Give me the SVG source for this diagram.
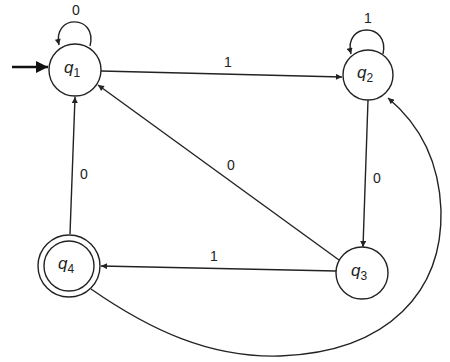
<svg xmlns="http://www.w3.org/2000/svg" width="450" height="362" viewBox="0 0 450 362">
<style>
.n{fill:#fff;stroke:#222;stroke-width:1.4}
.e{fill:none;stroke:#222;stroke-width:1.4}
.q{font-family:"Liberation Sans",Arial,sans-serif;font-style:italic;font-size:17px;fill:#222}
.s{font-size:12px;font-style:normal}
.l{font-family:"Liberation Sans",Arial,sans-serif;font-size:14px;fill:#222;text-anchor:middle}
</style>
<defs>
<marker id="a" viewBox="0 0 10 10" refX="10" refY="5" markerWidth="7" markerHeight="6" markerUnits="userSpaceOnUse" orient="auto">
<path d="M0,0 L10,5 L0,10 z" fill="#222"/>
</marker>
<marker id="b" viewBox="0 0 10 10" refX="10" refY="5" markerWidth="13" markerHeight="12" markerUnits="userSpaceOnUse" orient="auto">
<path d="M0,0 L10,5 L0,10 z" fill="#111"/>
</marker>
</defs>
<rect width="450" height="362" fill="#fff"/>
<g id="connectors">
<line x1="12" y1="67" x2="48" y2="67" stroke="#111" stroke-width="2.6" marker-end="url(#b)"/>
<path class="e" d="M90 46 C98 14,52 14,59 45" marker-end="url(#a)"/>
<path class="e" d="M383 54 C390 22,343 22,351 54" marker-end="url(#a)"/>
<line class="e" x1="101" y1="71" x2="342" y2="77" marker-end="url(#a)"/>
<line class="e" x1="368" y1="100" x2="363" y2="247" marker-end="url(#a)"/>
<line class="e" x1="339" y1="260" x2="98" y2="85" marker-end="url(#a)"/>
<line class="e" x1="336" y1="271" x2="101" y2="266" marker-end="url(#a)"/>
<line class="e" x1="70" y1="234" x2="75" y2="97" marker-end="url(#a)"/>
<path class="e" d="M91 289 C150 330,210 358,280 356 C390 352,443 290,441 210 C439 160,418 123,388 98" marker-end="url(#a)"/>
<text class="l" x="76" y="15">0</text>
<text class="l" x="368" y="23">1</text>
<text class="l" x="228" y="67">1</text>
<text class="l" x="377" y="183">0</text>
<text class="l" x="231" y="170">0</text>
<text class="l" x="214" y="261">1</text>
<text class="l" x="84" y="179">0</text>
</g>
<g id="q1">
<circle class="n" cx="75" cy="70" r="26"/>
<text class="q" x="64" y="73">q<tspan class="s" dy="4">1</tspan></text>
</g>
<g id="q2">
<circle class="n" cx="368" cy="75" r="25"/>
<text class="q" x="357" y="78">q<tspan class="s" dy="4">2</tspan></text>
</g>
<g id="q3">
<circle class="n" cx="362" cy="273" r="26"/>
<text class="q" x="351" y="276">q<tspan class="s" dy="4">3</tspan></text>
</g>
<g id="q4">
<circle class="n" cx="69" cy="266" r="31"/>
<circle class="n" cx="69" cy="266" r="25"/>
<text class="q" x="58" y="269">q<tspan class="s" dy="4">4</tspan></text>
</g>
</svg>
